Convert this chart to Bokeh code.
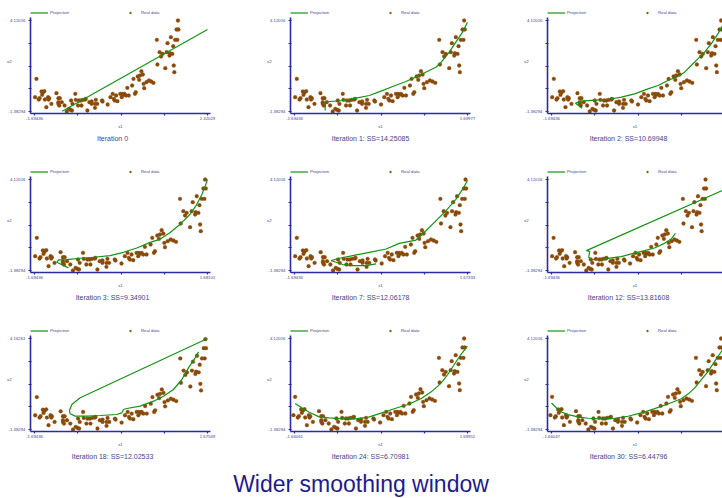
import numpy as np
from bokeh.embed import file_html
from bokeh.layouts import column, row
from bokeh.models import Div, FixedTicker, Legend, LegendItem, Range1d, Title
from bokeh.plotting import figure
from bokeh.resources import INLINE

# ---- observed points (x1, x2) ----
data_x1 = [-1.649, -1.681, -1.596, -1.577, -1.531, -1.499, -1.466, -1.518, -1.453, -1.420,
           -1.381, -1.355, -1.368, -1.303, -1.185, -1.140, -1.107, -1.140, -1.140, -1.120,
           -1.061, -0.996, -0.944, -0.892, -0.859, -0.826, -0.846, -0.813, -0.748, -0.735,
           -0.683, -0.663, -0.604, -0.617, -0.572, -0.520, -0.506, -0.467, -0.422, -0.369,
           -0.369, -0.291, -0.271, -0.291, -0.239, -0.128, -0.115, 0.003, 0.068, 0.120,
           0.146, 0.166, 0.199, 0.231, 0.296, 0.329, 0.342, 0.362, 0.394, 0.427,
           0.460, 0.492, 0.571, 0.603, 0.636, 0.655, 0.701, 0.734, 0.786, 0.753,
           0.819, 0.851, 0.838, 0.903, 0.962, 1.014, 1.067, 1.145, 1.158, 1.210,
           1.243, 1.276, 1.341, 1.373, 1.393, 1.439, 1.452, 1.471, 1.504, 1.524,
           1.537, 1.550, 1.569, 1.602, 1.621, 1.634, 1.647]
data_x2 = [0.593, -0.516, -0.657, -0.577, -0.174, -0.234, -0.153, -0.375, -0.657, -1.121,
           -0.516, -0.577, -0.657, -0.919, -0.274, -0.577, -0.577, -0.819, -0.919, -1.020,
           -0.819, -1.020, -1.383, -1.222, -1.282, -1.322, -0.718, -0.919, -0.314, -0.677,
           -1.020, -0.718, -1.020, -0.718, -0.677, -0.657, -0.617, -1.322, -0.819, -0.919,
           -0.778, -0.919, -0.677, -1.161, -0.919, -0.718, -0.778, -0.960, -0.516, -0.314,
           -0.617, -0.718, -0.415, -0.758, -0.314, -0.516, -0.314, -0.375, -0.314, -0.415,
           0.048, -0.415, 0.189, 0.593, -0.314, -0.214, 0.734, 0.532, 1.056, 0.794,
           0.855, 0.028, 0.290, 0.391, 0.492, 0.431, 0.351, 2.951, 1.459, 2.205,
           1.943, 2.104, 1.238, 2.205, 2.749, 2.004, 2.145, 3.112, 2.104, 2.568,
           1.399, 0.996, 2.951, 3.576, 2.951, 4.120, 3.576]

# ---- per-iteration captions and axis extents ----
captions = ["Iteration 0", "Iteration 1: SS=14.25085", "Iteration 2: SS=10.69948",
            "Iteration 3: SS=9.34901", "Iteration 7: SS=12.06178", "Iteration 12: SS=13.81608",
            "Iteration 18: SS=12.02533", "Iteration 24: SS=6.70981", "Iteration 30: SS=6.44796"]
x1_min = [-1.69436, -1.69436, -1.69436, -1.69436, -1.69436, -1.69436, -1.69436, -1.66061, -1.66047]
x1_max = [2.32029, 1.69977, 1.69977, 1.68101, 1.67333, 2.04362, 1.67569, 1.69952, 1.69966]
x2_min = [-1.38294, -1.38294, -1.38294, -1.38294, -1.38294, -1.38294, -1.38294, -1.38294, -1.38294]
x2_max = [4.12016, 4.12016, 4.12016, 4.12016, 4.12016, 4.12016, 4.16261, 4.12016, 4.12016]

# ---- projection curves, one per iteration ----
proj0_x1 = [-1.052, 2.32029]
proj0_x2 = [-1.363, 3.576]
proj1_x1 = [-1.094, -1.087, -1.009, -0.748, -0.487, -0.226, 0.003, 0.231, 0.492, 0.753, 0.949,
            1.080, 1.158, 1.210, 1.341, 1.471, 1.602, 1.69977]
proj1_x2 = [-1.322, -0.819, -0.778, -0.718, -0.577, -0.415, -0.153, 0.129, 0.431, 0.794, 1.096,
            1.298, 1.500, 1.701, 2.205, 2.810, 3.415, 4.02]
proj2_x1 = [-1.094, -1.224, -1.107, -0.846, -0.585, -0.324, -0.063, 0.198, 0.394, 0.590, 0.786,
            0.916, 1.047, 1.177, 1.308, 1.439, 1.569, 1.699]
proj2_x2 = [-1.181, -0.879, -0.758, -0.698, -0.657, -0.516, -0.314, -0.012, 0.189, 0.492, 0.734,
            0.996, 1.399, 1.802, 2.205, 2.709, 3.314, 4.02]
proj3_x1 = [-1.031, -1.259, -1.226, -1.063, -0.803, -0.543, -0.218, 0.042, 0.302, 0.562, 0.758,
            0.953, 1.148, 1.343, 1.473, 1.571, 1.636, 1.681]
proj3_x2 = [-1.223, -0.883, -0.743, -0.723, -0.643, -0.583, -0.483, -0.282, -0.022, 0.318, 0.518,
            0.918, 1.419, 2.019, 2.619, 3.219, 3.720, 4.120]
proj7_x1 = [-0.108, -0.302, -0.561, -0.755, -0.885, -0.982, -0.820, -0.561, -0.237, 0.087, 0.346,
            0.670, 0.864, 1.058, 1.252, 1.446, 1.576, 1.673]
proj7_x2 = [-0.983, -1.083, -1.083, -1.023, -0.883, -0.783, -0.643, -0.483, -0.282, -0.082, 0.258,
            0.458, 1.018, 1.619, 2.219, 2.919, 3.520, 4.06]
proj12_x1 = [0.984, 0.890, 0.747, 0.531, 0.316, 0.029, -0.187, -0.402, -0.617, -0.833, -0.890,
             -0.869, -0.941, 2.04362]
proj12_x2 = [0.858, 0.518, 0.258, -0.022, -0.182, -0.382, -0.543, -0.623, -0.723, -0.723, -0.583,
             -0.222, -0.182, 3.52]
proj18_x1 = [1.67569, -0.805, -0.967, -1.013, -1.000, -0.902, -0.675, -0.415, -0.091, 0.007, 0.039,
             0.104, 0.364, 0.624, 0.818, 1.013, 1.176, 1.305, 1.435, 1.500]
proj18_x2 = [4.16261, 0.547, 0.141, -0.225, -0.428, -0.570, -0.570, -0.530, -0.469, -0.367, -0.164,
             -0.103, 0.039, 0.343, 0.648, 1.055, 1.664, 2.375, 2.985, 3.350]
proj24_x1 = [-1.648, -1.501, -1.373, -1.181, -0.989, -0.733, -0.477, -0.221, 0.035, 0.291, 0.547,
             0.803, 0.995, 1.123, 1.219, 1.315, 1.443, 1.571, 1.699]
proj24_x2 = [0.189, -0.113, -0.335, -0.617, -0.678, -0.738, -0.738, -0.637, -0.375, -0.113, 0.129,
             0.492, 0.895, 1.238, 1.540, 1.943, 2.548, 3.152, 3.656]
proj30_x1 = [-1.660, -1.564, -1.467, -1.337, -1.144, -0.950, -0.691, -0.433, -0.174, 0.084, 0.343,
             0.601, 0.860, 0.989, 1.118, 1.248, 1.377, 1.506, 1.635, 1.700]
proj30_x2 = [0.218, -0.082, -0.322, -0.483, -0.623, -0.703, -0.743, -0.703, -0.583, -0.382, -0.122,
             0.158, 0.478, 0.758, 1.118, 1.619, 2.119, 2.719, 3.320, 3.620]

proj_x1 = [proj0_x1, proj1_x1, proj2_x1, proj3_x1, proj7_x1, proj12_x1, proj18_x1, proj24_x1, proj30_x1]
proj_x2 = [proj0_x2, proj1_x2, proj2_x2, proj3_x2, proj7_x2, proj12_x2, proj18_x2, proj24_x2, proj30_x2]

# ---- styling ----
FONT = "Liberation Sans"
AXIS_COLOR = "#2b2ba6"
TEXT_COLOR = "#44448f"
POINT_COLOR = "#8a4a0a"
LINE_COLOR = "#139413"

COL_WIDTHS = [260, 257, 205]
FRAME_WIDTHS = [180, 180, 175]
CAPTION_CENTER = [82, 80, 81]   # caption centre, measured from the frame's left edge
ROW_HEIGHTS = [159, 159, 146]
LEFT = 30          # frame left edge
TOP = 8            # frame top edge
AXIS_Y = 113       # x-axis line position inside each panel
SPAN_X = 173       # pixels between first and last x tick
SPAN_Y = 91        # pixels between first and last y tick
CAPTION_PX = 7

# advance widths (per 1000 em) of the caption glyphs in an Arial-metric sans
GLYPH_W = {"I": 278, "t": 278, "e": 556, "r": 333, "a": 556, "i": 222, "o": 556, "n": 556,
           " ": 278, ":": 278, "S": 667, "=": 584, ".": 278}


def text_width(s, size):
    return sum(GLYPH_W.get(ch, 556) for ch in s) * size / 1000.0


def end_labels(ticks, lo, hi):
    labels = {t: "" for t in ticks}
    labels[ticks[0]] = f"{lo:.5f}"
    labels[ticks[-1]] = f"{hi:.5f}"
    return labels


def make_panel(k, col, height):
    fw = FRAME_WIDTHS[col]
    width = COL_WIDTHS[col]
    lo, hi = x1_min[k], x1_max[k]
    ylo, yhi = x2_min[k], x2_max[k]
    px = (hi - lo) / SPAN_X
    py = (yhi - ylo) / SPAN_Y
    x0 = lo - 4 * px

    p = figure(width=width, height=height,
               x_range=Range1d(x0, x0 + fw * px),
               y_range=Range1d(ylo - 2 * py, yhi + (AXIS_Y - 2 - SPAN_Y - TOP) * py),
               output_backend="svg", toolbar_location=None,
               min_border_left=LEFT, min_border_right=width - LEFT - fw,
               min_border_top=TOP, min_border_bottom=height - AXIS_Y)
    p.outline_line_color = None
    p.xgrid.visible = False
    p.ygrid.visible = False
    p.background_fill_color = "white"
    p.border_fill_color = "white"

    pts = p.scatter(data_x1, data_x2, marker="circle", size=3.8,
                    fill_color=POINT_COLOR, line_color=POINT_COLOR, line_width=0.3)
    ln = p.line(proj_x1[k], proj_x2[k], line_color=LINE_COLOR, line_width=1.2)

    xt = [float(v) for v in np.linspace(lo, hi, 5)]
    yt = [float(v) for v in np.linspace(ylo, yhi, 5)]

    xa = p.xaxis[0]
    xa.ticker = FixedTicker(ticks=xt)
    xa.major_label_overrides = end_labels(xt, lo, hi)
    xa.minor_tick_line_color = None
    xa.axis_line_color = AXIS_COLOR
    xa.axis_line_width = 1.6
    xa.major_tick_line_color = AXIS_COLOR
    xa.major_tick_line_width = 1.2
    xa.major_tick_in = 0
    xa.major_tick_out = 2
    xa.major_label_standoff = 1
    xa.major_label_text_font = FONT
    xa.major_label_text_font_size = "4.3px"
    xa.major_label_text_color = TEXT_COLOR
    xa.axis_label = "x1"
    xa.axis_label_standoff = 1
    xa.axis_label_text_font = FONT
    xa.axis_label_text_font_size = "4.3px"
    xa.axis_label_text_font_style = "normal"
    xa.axis_label_text_color = TEXT_COLOR

    ya = p.yaxis[0]
    ya.ticker = FixedTicker(ticks=yt)
    ya.major_label_overrides = end_labels(yt, ylo, yhi)
    ya.bounds = (ylo - 2 * py, yhi + 3 * py)
    ya.minor_tick_line_color = None
    ya.axis_line_color = AXIS_COLOR
    ya.axis_line_width = 1.6
    ya.major_tick_line_color = AXIS_COLOR
    ya.major_tick_line_width = 1.2
    ya.major_tick_in = 1
    ya.major_tick_out = 2
    ya.major_label_standoff = 3
    ya.major_label_orientation = "horizontal"
    ya.major_label_text_font = FONT
    ya.major_label_text_font_size = "4.3px"
    ya.major_label_text_color = TEXT_COLOR
    ya.axis_label = "x2"
    ya.axis_label_orientation = "horizontal"
    ya.axis_label_standoff = -6
    ya.axis_label_text_font = FONT
    ya.axis_label_text_font_size = "4.3px"
    ya.axis_label_text_font_style = "normal"
    ya.axis_label_text_color = TEXT_COLOR

    legend = Legend(items=[LegendItem(label="Projection", renderers=[ln]),
                           LegendItem(label="Real data", renderers=[pts])],
                    orientation="horizontal", location=(0, AXIS_Y - 14.5),
                    glyph_width=18, glyph_height=5, label_height=5, label_width=20,
                    label_standoff=2, spacing=51, padding=0, margin=0,
                    label_text_font=FONT, label_text_font_size="4.3px",
                    label_text_color=TEXT_COLOR,
                    background_fill_alpha=0, border_line_alpha=0)
    p.add_layout(legend)

    cap = Title(text=captions[k], align="left",
                offset=CAPTION_CENTER[col] - text_width(captions[k], CAPTION_PX) / 2,
                standoff=3, text_font=FONT, text_font_size=f"{CAPTION_PX}px",
                text_font_style="normal", text_color=TEXT_COLOR)
    p.add_layout(cap, "below")
    return p


rows = []
for r in range(3):
    rows.append(row(*[make_panel(3 * r + c, c, ROW_HEIGHTS[r]) for c in range(3)], spacing=0))

title = Div(text=('<div style="width:722px;text-align:center;font-family:\'Liberation Sans\';'
                  'font-size:23px;line-height:23px;padding-top:9px;color:#1c1c8e;">'
                  'Wider smoothing window</div>'),
            width=722, height=498 - sum(ROW_HEIGHTS), margin=0)

layout = column(*rows, title, spacing=0)

with open("out.html", "w") as f:
    f.write(file_html(layout, INLINE))
